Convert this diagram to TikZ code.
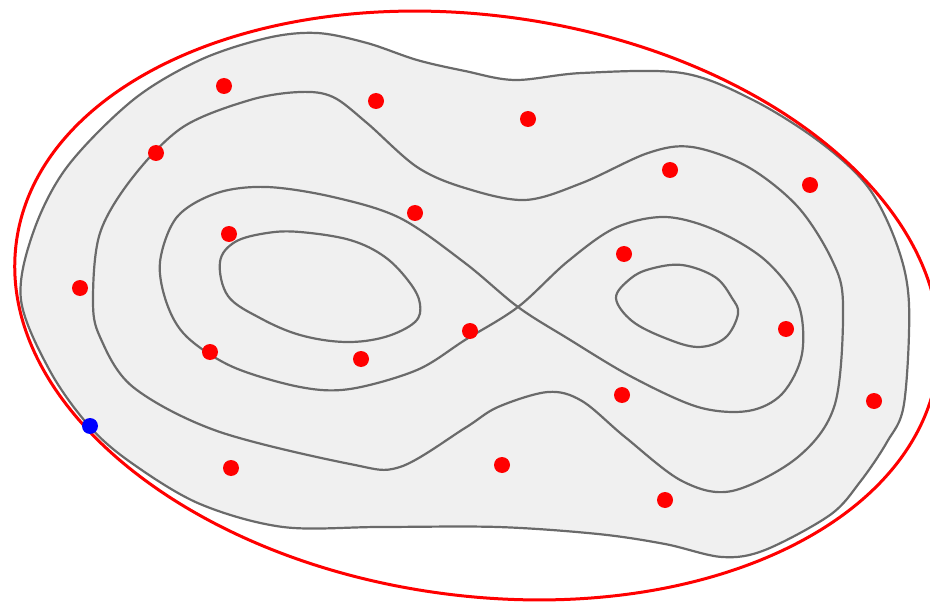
\documentclass[tikz,border=0pt]{standalone}
\usepackage{tikz}
\usetikzlibrary{calc}
\definecolor{lvlgray}{HTML}{6A6A6A}
\definecolor{blobfill}{HTML}{F0F0F0}
\tikzset{
  lvl/.style={draw=lvlgray,line width=2.2pt},
  bound/.style={draw=red,line width=3pt},
  smp/.style={fill=red},
  seed/.style={fill=blue}
}

\begin{document}
\begin{tikzpicture}[x=1pt,y=-1pt]
  \useasboundingbox (0,0) rectangle (930,607);
  % Outer level set (filled region)
  \draw[lvl,fill=blobfill] plot[smooth cycle,tension=0.55] coordinates {
    (21,300) (33,233) (67,167) (133,100) (200,60) (267,38) (317,33) (367,43)
    (417,60) (465,71) (515,80) (582,73) (682,73) (753,100) (820,142) (868,187)
    (897,245) (909,304) (904,404) (887,442) (860,482) (830,515) (765,550)
    (722,557) (665,544) (598,534) (498,527) (380,527) (283,527) (200,504)
    (133,464) (90,427) (50,371)};

  % Second level set
  \draw[lvl] plot[smooth cycle,tension=0.55] coordinates {
    (93,300) (100,233) (133,177) (183,127) (250,100) (300,92) (333,97)
    (367,123) (417,167) (465,188) (525,200) (582,183) (648,153) (692,147)
    (748,167) (798,207) (832,260) (843,304) (835,404) (798,457) (732,491)
    (682,481) (625,437) (582,401) (548,392) (498,407) (465,428) (400,467)
    (350,464) (217,431) (133,387) (100,337)};

  % Figure-eight
  \draw[lvl] plot[smooth cycle,tension=0.55] coordinates {
    (518,307) (465,263) (400,218) (333,197) (267,187) (217,193) (177,217)
    (160,262) (167,304) (187,337) (233,367) (300,387) (350,389) (417,370)
    (465,340) (518,307) (567,262) (615,228) (665,217) (715,230) (765,260)
    (798,303) (802,354) (782,394) (748,411) (698,407) (632,377) (567,338)};

  % Inner ovals
  \draw[lvl] plot[smooth cycle,tension=0.6] coordinates {
    (220,262) (235,242) (267,233) (300,232) (350,240) (385,257) (410,283)
    (420,304) (415,322) (385,337) (345,342) (300,335) (260,318) (228,296)};
  \draw[lvl] plot[smooth cycle,tension=0.6] coordinates {
    (616,298) (630,279) (650,269) (682,265) (715,277) (732,298) (738,314)
    (725,338) (698,347) (665,338) (632,321)};

  % Enclosing ellipse
  \draw[bound,rotate around={-8:(477,305.5)}] (477,305.5) ellipse [x radius=465pt,y radius=290pt];

  % Samples
  \foreach \px/\py in {224/86,376/101,528/119,156/153,670/170,810/185,415/213,
    229/234,624/254,80/288,786/329,470/331,210/352,361/359,622/395,874/401,
    231/468,502/465,665/500}
    \fill[smp] (\px,\py) circle (8pt);
  \fill[seed] (90,426) circle (8pt);
\end{tikzpicture}
\end{document}
